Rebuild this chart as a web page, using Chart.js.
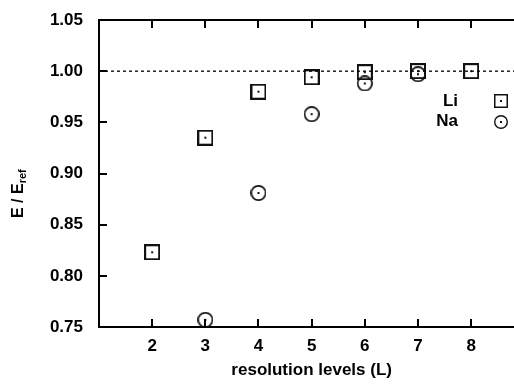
<!DOCTYPE html>
<html>
<head>
<meta charset="utf-8">
<script src="https://cdn.jsdelivr.net/npm/chart.js@4"></script>
<style>
  html, body { margin: 0; padding: 0; background: #fff; overflow: hidden; }
  #wrap { width: 540px; height: 385px; }
</style>
</head>
<body>
<div id="wrap"><canvas id="energyChart"></canvas></div>
<script>
// resolution levels and E / Eref for Li and Na
const liLevels = [2, 3, 4, 5, 6, 7, 8];
const liValues = [0.823, 0.935, 0.980, 0.994, 0.999, 1.000, 1.000];
const naLevels = [3, 4, 5, 6, 7];
const naValues = [0.757, 0.881, 0.958, 0.988, 0.997];
const refLevels = [1, 9];
const refValue = 1.0;
const yTicks = [0.75, 0.80, 0.85, 0.90, 0.95, 1.00, 1.05];
const xTicks = [2, 3, 4, 5, 6, 7, 8];

const ink = '#111';
const font = 'Liberation Sans, Arial, Helvetica, sans-serif';

function squareMark(size, lw) {
  const c = document.createElement('canvas');
  c.width = c.height = size;
  const g = c.getContext('2d');
  g.strokeStyle = ink;
  g.lineWidth = lw;
  g.strokeRect(lw / 2, lw / 2, size - lw, size - lw);
  g.fillStyle = ink;
  g.fillRect(size / 2 - 1, size / 2 - 1, 2, 2);
  return c;
}

function circleMark(size, lw) {
  const c = document.createElement('canvas');
  c.width = c.height = size;
  const g = c.getContext('2d');
  g.strokeStyle = ink;
  g.lineWidth = lw;
  g.beginPath();
  g.arc(size / 2, size / 2, (size - lw) / 2, 0, Math.PI * 2);
  g.stroke();
  g.fillStyle = ink;
  g.fillRect(size / 2 - 1, size / 2 - 1, 2, 2);
  return c;
}

const liMark = squareMark(16, 2);
const naMark = circleMark(16, 1.7);
const liKey = squareMark(14, 1.5);
const naKey = circleMark(14, 1.4);

// inward ticks, top frame line, legend and y title with subscript
const decorations = {
  id: 'decorations',
  afterDraw(chart) {
    const { ctx, chartArea: a, scales: { x, y } } = chart;
    ctx.save();
    ctx.strokeStyle = '#000';
    ctx.lineWidth = 2;
    ctx.beginPath();
    ctx.moveTo(a.left - 1, a.top);
    ctx.lineTo(a.right, a.top);
    xTicks.forEach(v => {
      const px = Math.round(x.getPixelForValue(v));
      ctx.moveTo(px, a.bottom);
      ctx.lineTo(px, a.bottom - 8);
      ctx.moveTo(px, a.top);
      ctx.lineTo(px, a.top + 8);
    });
    yTicks.slice(1, -1).forEach(v => {
      const py = Math.round(y.getPixelForValue(v));
      ctx.moveTo(a.left, py);
      ctx.lineTo(a.left + 8, py);
    });
    ctx.stroke();

    // legend
    ctx.fillStyle = '#000';
    ctx.font = 'bold 17px ' + font;
    ctx.textAlign = 'right';
    ctx.textBaseline = 'middle';
    ctx.fillText('Li', 458, 101);
    ctx.fillText('Na', 458, 121);
    ctx.drawImage(liKey, 494, 94);
    ctx.drawImage(naKey, 494, 115);

    // y axis title
    ctx.translate(23, 218);
    ctx.rotate(-Math.PI / 2);
    ctx.textAlign = 'left';
    ctx.textBaseline = 'alphabetic';
    ctx.font = 'bold 16px ' + font;
    ctx.fillText('E / E', 0, 0);
    const w = ctx.measureText('E / E').width;
    ctx.font = 'bold 11px ' + font;
    ctx.fillText('ref', w, 3);
    ctx.restore();
  }
};

new Chart(document.getElementById('energyChart'), {
  type: 'scatter',
  data: {
    datasets: [
      {
        label: 'ref',
        type: 'line',
        data: refLevels.map(l => ({ x: l, y: refValue })),
        borderColor: '#000',
        borderWidth: 1.3,
        borderDash: [3, 3],
        pointRadius: 0
      },
      {
        label: 'Li',
        data: liLevels.map((l, i) => ({ x: l, y: liValues[i] })),
        pointStyle: liMark
      },
      {
        label: 'Na',
        data: naLevels.map((l, i) => ({ x: l, y: naValues[i] })),
        pointStyle: naMark
      }
    ]
  },
  options: {
    responsive: true,
    maintainAspectRatio: false,
    animation: false,
    layout: { padding: { top: 20, right: 15.7, left: 0, bottom: 0 } },
    plugins: {
      legend: { display: false },
      tooltip: { enabled: false }
    },
    scales: {
      x: {
        type: 'linear',
        min: 1,
        max: 9,
        afterFit: s => { s.height = 58; s.paddingLeft = 0; s.paddingRight = 0; },
        afterBuildTicks: s => { s.ticks = xTicks.map(v => ({ value: v })); },
        grid: { display: false, drawTicks: false },
        border: { display: true, color: '#000', width: 2 },
        ticks: {
          padding: 9,
          color: '#000',
          font: { family: font, size: 17, weight: 'bold' }
        },
        title: {
          display: true,
          text: 'resolution levels (L)',
          color: '#000',
          padding: { top: 2 },
          font: { family: font, size: 17, weight: 'bold' }
        }
      },
      y: {
        min: 0.75,
        max: 1.05,
        afterFit: s => { s.width = 99; s.paddingTop = 0; s.paddingBottom = 0; },
        afterBuildTicks: s => { s.ticks = yTicks.map(v => ({ value: v })); },
        grid: { display: false, drawTicks: false },
        border: { display: true, color: '#000', width: 2 },
        ticks: {
          padding: 16,
          color: '#000',
          font: { family: font, size: 17, weight: 'bold' },
          callback: v => v.toFixed(2)
        }
      }
    }
  },
  plugins: [decorations]
});
</script>
</body>
</html>
